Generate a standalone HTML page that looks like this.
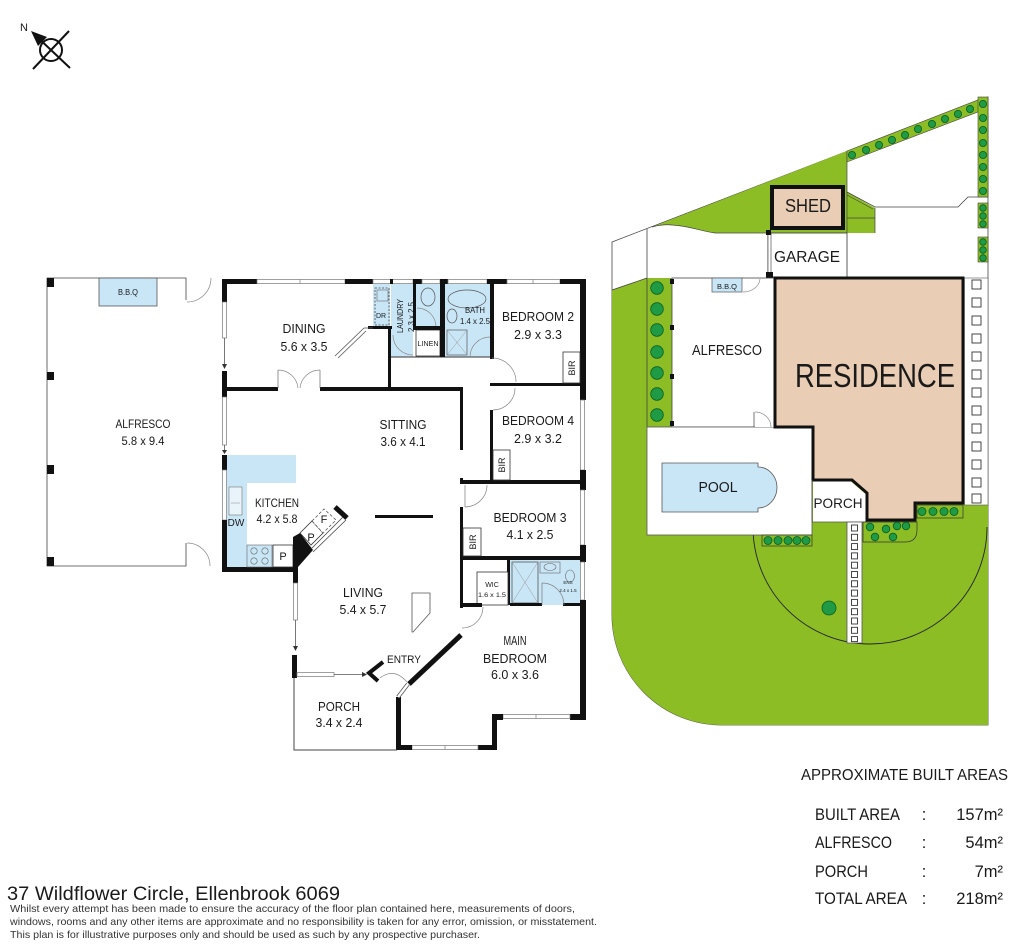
<!DOCTYPE html>
<html><head><meta charset="utf-8">
<style>
html,body{margin:0;padding:0;background:#fff}
svg{display:block}
text{font-family:"Liberation Sans",sans-serif;fill:#1a1a1a}
.w{fill:#fff;stroke:#777;stroke-width:0.7}
.k{fill:#111}
.t{fill:none;stroke:#444;stroke-width:0.8}
.a{fill:none;stroke:#888;stroke-width:0.7}
.b{fill:#c9e6f7}
.tr{fill:#1f9b45;stroke:#0b5e24;stroke-width:0.8}
.g{fill:#8cbd24}
.sq{fill:#fff;stroke:#333;stroke-width:0.9}
</style></head>
<body>
<svg width="1024" height="952" viewBox="0 0 1024 952" xmlns="http://www.w3.org/2000/svg">

<!-- Compass -->
<text x="20" y="31" font-size="11">N</text>
<circle cx="51" cy="50" r="11" fill="none" stroke="#111" stroke-width="2"/>
<line x1="33" y1="69" x2="69" y2="31" stroke="#111" stroke-width="2"/>
<line x1="33" y1="33" x2="70" y2="68" stroke="#111" stroke-width="2"/>
<polygon points="31,31 47,37 38,46" fill="#111"/>

<!-- ===== FLOOR PLAN ===== -->
<!-- Alfresco -->
<path d="M186,300 L186,278 L47,278 L47,566 L186,566 L186,543" class="t" stroke="#333" stroke-width="1"/>
<path d="M187,302 A24,24 0 0 0 211,278" class="a"/>
<path d="M187,543 A23,23 0 0 1 210,566" class="a"/>
<rect x="47" y="278" width="7" height="9" class="k"/>
<rect x="47" y="372" width="7" height="8" class="k"/>
<rect x="47" y="465" width="7" height="9" class="k"/>
<rect x="47" y="557" width="7" height="9" class="k"/>
<rect x="99" y="278" width="58" height="28" class="b" stroke="#555" stroke-width="0.8"/>
<text x="128" y="295" font-size="8" text-anchor="middle" textLength="20" lengthAdjust="spacingAndGlyphs">B.B.Q</text>
<text x="143" y="428" font-size="11.5" text-anchor="middle" textLength="55" lengthAdjust="spacingAndGlyphs">ALFRESCO</text>
<text x="143" y="445" font-size="11.5" text-anchor="middle" textLength="43" lengthAdjust="spacingAndGlyphs">5.8 x 9.4</text>

<!-- wet area fills -->
<rect x="373" y="284" width="17" height="43" class="b"/>
<rect x="391" y="284" width="22" height="73" class="b"/>
<rect x="416" y="284" width="24" height="42" class="b"/>
<rect x="445" y="284" width="45" height="73" class="b"/>
<rect x="375" y="288" width="14" height="37" fill="none" stroke="#444" stroke-width="0.8" stroke-dasharray="2,1.5"/>
<rect x="377" y="290" width="11" height="11" fill="none" stroke="#666" stroke-width="0.6"/>
<ellipse cx="428" cy="297" rx="7" ry="9" class="b" stroke="#555" stroke-width="0.7"/>
<ellipse cx="467" cy="299" rx="19" ry="9" class="b" stroke="#555" stroke-width="0.7"/>
<ellipse cx="452" cy="316" rx="5" ry="7" class="b" stroke="#555" stroke-width="0.7"/>
<rect x="447" y="330" width="20" height="25" class="b" stroke="#555" stroke-width="0.7"/>
<line x1="447" y1="330" x2="467" y2="355" stroke="#999" stroke-width="0.5"/>
<line x1="467" y1="330" x2="447" y2="355" stroke="#999" stroke-width="0.5"/>
<rect x="416" y="330" width="24" height="26" fill="#fff" stroke="#333" stroke-width="0.8"/>
<line x1="391" y1="357" x2="490" y2="357" stroke="#333" stroke-width="1"/>
<path d="M393,335 A20,20 0 0 0 413,355" class="a"/>
<path d="M417,308 A19,19 0 0 1 436,327" class="a"/>
<path d="M470,357 A20,20 0 0 1 490,337" class="a"/>
<text x="381" y="318" font-size="7" text-anchor="middle">DR</text>
<text transform="translate(403,316) rotate(-90)" font-size="8" text-anchor="middle" textLength="34" lengthAdjust="spacingAndGlyphs">LAUNDRY</text>
<text transform="translate(414,317) rotate(-90)" font-size="8" text-anchor="middle" textLength="30" lengthAdjust="spacingAndGlyphs">2.3 x 2.5</text>
<text x="428" y="346" font-size="7.5" text-anchor="middle" textLength="21" lengthAdjust="spacingAndGlyphs">LINEN</text>
<text x="475" y="313" font-size="8" text-anchor="middle" textLength="20" lengthAdjust="spacingAndGlyphs">BATH</text>
<text x="475" y="324" font-size="8" text-anchor="middle" textLength="30" lengthAdjust="spacingAndGlyphs">1.4 x 2.5</text>

<!-- top wall -->
<rect x="222" y="279" width="35" height="5" class="k"/>
<rect x="257" y="279.5" width="88" height="4" class="w"/>
<line x1="300" y1="279.5" x2="300" y2="283.5" stroke="#777" stroke-width="0.7"/>
<rect x="345" y="279" width="28" height="5" class="k"/>
<rect x="373" y="279.5" width="40" height="4" class="w"/>
<rect x="390" y="279" width="3" height="5" class="k"/>
<rect x="413" y="279" width="9" height="5" class="k"/>
<rect x="422" y="279.5" width="18" height="4" class="w"/>
<rect x="440" y="279" width="8" height="5" class="k"/>
<rect x="448" y="279.5" width="39" height="4" class="w"/>
<rect x="487" y="279" width="20" height="5" class="k"/>
<rect x="507" y="279.5" width="53" height="4" class="w"/>
<line x1="533" y1="279.5" x2="533" y2="283.5" stroke="#777" stroke-width="0.7"/>
<rect x="560" y="279" width="26" height="5" class="k"/>

<!-- right wall -->
<rect x="580" y="279" width="6" height="121" class="k"/>
<rect x="580.5" y="400" width="4" height="70" class="w"/>
<rect x="580" y="470" width="6" height="20" class="k"/>
<rect x="580.5" y="490" width="4" height="55" class="w"/>
<rect x="580" y="545" width="6" height="17" class="k"/>
<rect x="580.5" y="562" width="4" height="38" class="w"/>
<rect x="580" y="600" width="6" height="120" class="k"/>

<!-- bottom walls -->
<rect x="570" y="714" width="16" height="6" class="k"/>
<rect x="503" y="714.5" width="67" height="4" class="w"/>
<line x1="536" y1="714.5" x2="536" y2="718.5" stroke="#777" stroke-width="0.7"/>
<rect x="492" y="714" width="11" height="6" class="k"/>
<rect x="492" y="714" width="5" height="36" class="k"/>
<rect x="478" y="745" width="19" height="5" class="k"/>
<rect x="412" y="745.5" width="66" height="4" class="w"/>
<line x1="445" y1="745.5" x2="445" y2="749.5" stroke="#777" stroke-width="0.7"/>
<rect x="396" y="745" width="16" height="5" class="k"/>
<rect x="396" y="697" width="5" height="53" class="k"/>
<line x1="461" y1="635" x2="409" y2="684" stroke="#111" stroke-width="5"/>
<line x1="408" y1="684" x2="398" y2="697" stroke="#555" stroke-width="4"/>
<line x1="408" y1="684" x2="398" y2="697" stroke="#fff" stroke-width="2.4"/>
<path d="M380,678 Q394,667 407,682" class="a"/>
<polyline points="383,662 369,673 378,681" fill="none" stroke="#111" stroke-width="4"/>

<!-- porch -->
<rect x="292" y="655" width="5" height="23" class="k"/>
<rect x="297" y="672.5" width="37" height="4" class="w"/>
<line x1="334" y1="674.5" x2="363" y2="674.5" stroke="#555" stroke-width="0.8"/>
<polygon points="362,672 362,677 367,674.5" fill="#333"/>
<path d="M294,678 L294,750 L397,750" fill="none" stroke="#444" stroke-width="1"/>

<!-- left walls -->
<rect x="222" y="279" width="5" height="23" class="k"/>
<rect x="222.5" y="302" width="4" height="36" class="w"/>
<line x1="224.5" y1="338" x2="224.5" y2="365" stroke="#555" stroke-width="0.8"/>
<polygon points="222,364 227,364 224.5,369" fill="#333"/>
<rect x="222" y="371" width="5" height="26" class="k"/>
<rect x="222.5" y="397" width="4" height="48" class="w"/>
<line x1="224.5" y1="445" x2="224.5" y2="451" stroke="#555" stroke-width="0.8"/>
<polygon points="222,450 227,450 224.5,454" fill="#333"/>

<!-- kitchen -->
<polygon points="227,455 296,455 296,483 247,483 247,545 272,545 272,567 227,567" class="b"/>
<rect x="222" y="455" width="5" height="15" class="k"/>
<rect x="222.5" y="470" width="4" height="50" class="w"/>
<rect x="222" y="520" width="5" height="52" class="k"/>
<rect x="222" y="567" width="76" height="5" class="k"/>
<rect x="229" y="487" width="13" height="28" fill="#e8f3fa" stroke="#777" stroke-width="0.6"/>
<line x1="231" y1="503" x2="240" y2="503" stroke="#888" stroke-width="0.5"/>
<rect x="247" y="545" width="25" height="22" class="b" stroke="#666" stroke-width="0.6"/>
<circle cx="254" cy="551" r="3.2" fill="none" stroke="#666" stroke-width="0.6"/>
<circle cx="265" cy="551" r="3.2" fill="none" stroke="#666" stroke-width="0.6"/>
<circle cx="254" cy="561" r="3.2" fill="none" stroke="#666" stroke-width="0.6"/>
<circle cx="265" cy="561" r="3.2" fill="none" stroke="#666" stroke-width="0.6"/>
<rect x="273" y="545" width="20" height="22" fill="#fff" stroke="#333" stroke-width="0.8"/>
<polygon points="293,537 300,533 313,550 298,567 293,567" class="k"/>
<polygon points="300,533 312,521 323,533 311,545" fill="#fff" stroke="#333" stroke-width="0.8"/>
<polygon points="312,521 324,509 336,520 323,533" fill="#fff" stroke="#444" stroke-width="0.7" stroke-dasharray="3,2"/>
<line x1="335" y1="507" x2="347" y2="518" stroke="#111" stroke-width="5"/>
<line x1="346" y1="520" x2="313" y2="552" stroke="#444" stroke-width="0.8"/>
<line x1="343" y1="517" x2="311" y2="549" stroke="#444" stroke-width="0.8"/>
<rect x="293" y="567" width="5" height="16" class="k"/>
<rect x="293.5" y="583" width="4" height="37" class="w"/>
<line x1="295.5" y1="620" x2="295.5" y2="647" stroke="#555" stroke-width="0.8"/>
<polygon points="293,646 298,646 295.5,651" fill="#333"/>
<text x="277" y="507" font-size="12" text-anchor="middle" textLength="44" lengthAdjust="spacingAndGlyphs">KITCHEN</text>
<text x="277" y="523" font-size="12" text-anchor="middle" textLength="41" lengthAdjust="spacingAndGlyphs">4.2 x 5.8</text>
<text x="236" y="526" font-size="10" text-anchor="middle">DW</text>
<text x="283" y="560" font-size="11" text-anchor="middle">P</text>
<text x="311" y="541" font-size="11" text-anchor="middle">P</text>
<text x="324" y="523" font-size="11" text-anchor="middle">F</text>

<!-- dining -->
<rect x="222" y="387" width="56" height="4" class="k"/>
<rect x="320" y="387" width="143" height="4" class="k"/>
<line x1="278" y1="370" x2="278" y2="388" stroke="#666" stroke-width="0.7"/>
<line x1="320" y1="370" x2="320" y2="388" stroke="#666" stroke-width="0.7"/>
<path d="M278,370 A20,20 0 0 1 298,388" class="a"/>
<path d="M320,370 A20,20 0 0 0 300,388" class="a"/>
<rect x="388" y="327" width="3" height="63" class="k"/>
<rect x="368" y="326" width="24" height="3" class="k"/>
<line x1="335" y1="356" x2="364" y2="328" stroke="#555" stroke-width="0.8"/>
<line x1="338" y1="358" x2="366" y2="331" stroke="#555" stroke-width="0.8"/>
<line x1="364" y1="328" x2="373" y2="328" stroke="#555" stroke-width="0.8"/>
<text x="304" y="333" font-size="13" text-anchor="middle" textLength="43" lengthAdjust="spacingAndGlyphs">DINING</text>
<text x="304" y="351" font-size="13" text-anchor="middle" textLength="47" lengthAdjust="spacingAndGlyphs">5.6 x 3.5</text>

<!-- wet area walls -->
<rect x="413" y="284" width="3" height="44" class="k"/>
<rect x="413" y="326" width="30" height="4" class="k"/>
<rect x="440" y="284" width="5" height="73" class="k"/>
<rect x="490" y="279" width="4" height="80" class="k"/>

<!-- sitting -->
<rect x="460" y="388" width="3" height="62" class="k"/>
<text x="403" y="429" font-size="13" text-anchor="middle" textLength="47" lengthAdjust="spacingAndGlyphs">SITTING</text>
<text x="403" y="446" font-size="13" text-anchor="middle" textLength="45" lengthAdjust="spacingAndGlyphs">3.6 x 4.1</text>

<!-- bedrooms -->
<rect x="490" y="383" width="96" height="3" class="k"/>
<path d="M492,358 A24,24 0 0 1 516,382" class="a"/>
<path d="M515,388 A22,22 0 0 1 493,410" class="a"/>
<rect x="490" y="410" width="3" height="72" class="k"/>
<rect x="463" y="480" width="123" height="4" class="k"/>
<rect x="463" y="556" width="123" height="4" class="k"/>
<rect x="460" y="478" width="3" height="6" class="k"/>
<rect x="460" y="507" width="3" height="101" class="k"/>
<line x1="465" y1="485" x2="465" y2="507" stroke="#777" stroke-width="0.7"/>
<path d="M487,485 A22,22 0 0 1 465,507" class="a"/>
<rect x="563" y="352" width="17" height="31" fill="#fff" stroke="#333" stroke-width="0.8"/>
<rect x="493" y="450" width="17" height="30" fill="#fff" stroke="#333" stroke-width="0.8"/>
<rect x="463" y="528" width="18" height="28" fill="#fff" stroke="#333" stroke-width="0.8"/>
<text transform="translate(575,368) rotate(-90)" font-size="9" text-anchor="middle">BIR</text>
<text transform="translate(505,465) rotate(-90)" font-size="9" text-anchor="middle">BIR</text>
<text transform="translate(476,542) rotate(-90)" font-size="9" text-anchor="middle">BIR</text>
<text x="538" y="321" font-size="13" text-anchor="middle" textLength="72" lengthAdjust="spacingAndGlyphs">BEDROOM 2</text>
<text x="538" y="339" font-size="13" text-anchor="middle" textLength="48" lengthAdjust="spacingAndGlyphs">2.9 x 3.3</text>
<text x="538" y="425" font-size="13" text-anchor="middle" textLength="72" lengthAdjust="spacingAndGlyphs">BEDROOM 4</text>
<text x="538" y="443" font-size="13" text-anchor="middle" textLength="48" lengthAdjust="spacingAndGlyphs">2.9 x 3.2</text>
<text x="530" y="522" font-size="13" text-anchor="middle" textLength="73" lengthAdjust="spacingAndGlyphs">BEDROOM 3</text>
<text x="530" y="539" font-size="13" text-anchor="middle" textLength="47" lengthAdjust="spacingAndGlyphs">4.1 x 2.5</text>

<!-- ensuite / wic -->
<rect x="508" y="560" width="72" height="45" class="b"/>
<rect x="507" y="560" width="3" height="45" class="k"/>
<rect x="512" y="562" width="26" height="41" class="b" stroke="#555" stroke-width="0.8"/>
<line x1="512" y1="562" x2="538" y2="603" stroke="#999" stroke-width="0.5"/>
<line x1="538" y1="562" x2="512" y2="603" stroke="#999" stroke-width="0.5"/>
<rect x="540" y="562" width="20" height="11" class="b" stroke="#666" stroke-width="0.6"/>
<ellipse cx="550" cy="567" rx="6" ry="3.5" fill="none" stroke="#666" stroke-width="0.6"/>
<ellipse cx="570" cy="576" rx="4.5" ry="6" class="b" stroke="#666" stroke-width="0.6"/>
<rect x="510" y="603" width="32" height="3" class="k"/>
<rect x="563" y="603" width="17" height="3" class="k"/>
<path d="M542,583 A22,22 0 0 1 564,605" class="a"/>
<line x1="542" y1="583" x2="542" y2="605" stroke="#777" stroke-width="0.7"/>
<rect x="477" y="572" width="31" height="33" fill="#fff" stroke="#333" stroke-width="0.8"/>
<rect x="460" y="603" width="22" height="4" class="k"/>
<path d="M483,607 A21,21 0 0 1 462,628" class="a"/>
<text x="492" y="587" font-size="7" text-anchor="middle">WIC</text>
<text x="492" y="597" font-size="6.5" text-anchor="middle" textLength="28" lengthAdjust="spacingAndGlyphs">1.6 x 1.5</text>
<text x="568" y="584" font-size="4.5" text-anchor="middle">ENS</text>
<text x="568" y="592" font-size="4.5" text-anchor="middle">2.4 x 1.5</text>

<!-- living -->
<rect x="375" y="515" width="58" height="3" class="k"/>
<polygon points="412,593 430,593 430,613 413,632 412,632" fill="#fff" stroke="#555" stroke-width="0.8"/>
<text x="363" y="597" font-size="13" text-anchor="middle" textLength="40" lengthAdjust="spacingAndGlyphs">LIVING</text>
<text x="363" y="614" font-size="13" text-anchor="middle" textLength="47" lengthAdjust="spacingAndGlyphs">5.4 x 5.7</text>
<text x="404" y="663" font-size="11" text-anchor="middle" textLength="34" lengthAdjust="spacingAndGlyphs">ENTRY</text>
<text x="339" y="711" font-size="13" text-anchor="middle" textLength="42" lengthAdjust="spacingAndGlyphs">PORCH</text>
<text x="339" y="727" font-size="13" text-anchor="middle" textLength="47" lengthAdjust="spacingAndGlyphs">3.4 x 2.4</text>
<text x="515" y="645" font-size="13" text-anchor="middle" textLength="23" lengthAdjust="spacingAndGlyphs">MAIN</text>
<text x="515" y="663" font-size="13" text-anchor="middle" textLength="64" lengthAdjust="spacingAndGlyphs">BEDROOM</text>
<text x="515" y="679" font-size="13" text-anchor="middle" textLength="48" lengthAdjust="spacingAndGlyphs">6.0 x 3.6</text>

<!-- ===== SITE PLAN ===== -->
<path d="M988,97 L988,725 L722,725 A110,110 0 0 1 612,615 L612,242 Z" fill="#fff" stroke="#444" stroke-width="0.8"/>
<path d="M612,290 L647,278 L988,278 L988,725 L722,725 A110,110 0 0 1 612,615 Z" class="g"/>
<line x1="612" y1="290" x2="647" y2="278" stroke="#444" stroke-width="0.8"/>
<path d="M753,527 A117,117 0 0 0 987,527" fill="none" stroke="#222" stroke-width="0.9"/>
<path d="M652,227 L847,151 L847,192 L875,208 L875,233 L768,233 L715,233 C700,231 690,226 672,225 C662,224 656,226 652,227 Z" class="g"/>
<path d="M768,233 L715,233 C700,231 690,226 672,225 C662,224 656,226 652,227" fill="none" stroke="#444" stroke-width="0.7"/>
<line x1="847" y1="151" x2="847" y2="233" stroke="#444" stroke-width="0.7"/>
<line x1="847" y1="218" x2="875" y2="218" stroke="#444" stroke-width="0.7"/>
<line x1="875" y1="208" x2="875" y2="233" stroke="#444" stroke-width="0.7"/>
<line x1="647" y1="229" x2="647" y2="427" stroke="#444" stroke-width="0.8"/>
<path d="M847,192 L875,207 L958,207 L968,197 L988,197" fill="none" stroke="#444" stroke-width="0.8"/>
<line x1="847" y1="195" x2="873" y2="209" stroke="#444" stroke-width="0.6"/>

<!-- top hedge -->
<polygon points="847,151 983,98 983,110 847,162" class="g" stroke="#444" stroke-width="0.6"/>
<rect x="978" y="97" width="10" height="100" class="g" stroke="#444" stroke-width="0.6"/>
<rect x="978" y="203" width="10" height="25" class="g" stroke="#444" stroke-width="0.6"/>
<rect x="978" y="237" width="10" height="25" class="g" stroke="#444" stroke-width="0.6"/>
<g class="tr">
<circle cx="852" cy="155" r="3.6"/><circle cx="866" cy="150" r="3.6"/><circle cx="879" cy="145" r="3.6"/><circle cx="892" cy="140" r="3.6"/><circle cx="905" cy="135" r="3.6"/><circle cx="918" cy="129" r="3.6"/><circle cx="932" cy="124" r="3.6"/><circle cx="945" cy="119" r="3.6"/><circle cx="958" cy="114" r="3.6"/><circle cx="970" cy="109" r="3.6"/><circle cx="983" cy="104" r="3.6"/>
<circle cx="983" cy="118" r="3.6"/><circle cx="983" cy="130" r="3.6"/><circle cx="983" cy="143" r="3.6"/><circle cx="983" cy="155" r="3.6"/><circle cx="983" cy="167" r="3.6"/><circle cx="983" cy="179" r="3.6"/><circle cx="983" cy="191" r="3.6"/>
<circle cx="983" cy="208" r="3.3"/><circle cx="983" cy="216" r="3.3"/><circle cx="983" cy="224" r="3.3"/>
<circle cx="983" cy="242" r="3.3"/><circle cx="983" cy="250" r="3.3"/><circle cx="983" cy="258" r="3.3"/>
</g>

<!-- shed / garage -->
<rect x="772" y="187" width="71" height="41" fill="#e9cdb4" stroke="#111" stroke-width="4"/>
<text x="808" y="212" font-size="18" text-anchor="middle" textLength="46" lengthAdjust="spacingAndGlyphs">SHED</text>
<rect x="768" y="233" width="79" height="44" fill="#fff" stroke="#333" stroke-width="0.8"/>
<rect x="768" y="233" width="3" height="44" fill="#fff" stroke="#333" stroke-width="0.6"/>
<rect x="766" y="230" width="5" height="5" class="k"/>
<rect x="766" y="272" width="7" height="7" class="k"/>
<text x="807" y="262" font-size="16" text-anchor="middle" textLength="66" lengthAdjust="spacingAndGlyphs">GARAGE</text>

<!-- alfresco site -->
<rect x="672" y="278" width="103" height="149" fill="#fff" stroke="#444" stroke-width="0.8"/>
<rect x="670" y="279" width="4" height="5" class="k"/>
<rect x="670" y="325" width="4" height="5" class="k"/>
<rect x="670" y="374" width="4" height="5" class="k"/>
<rect x="670" y="421" width="4" height="5" class="k"/>
<rect x="712" y="278" width="30" height="14" class="b" stroke="#555" stroke-width="0.7"/>
<text x="727" y="289" font-size="7" text-anchor="middle" textLength="20" lengthAdjust="spacingAndGlyphs">B.B.Q</text>
<path d="M743,292 A17,14 0 0 0 760,279" class="a"/>
<text x="727" y="355" font-size="15" text-anchor="middle" textLength="70" lengthAdjust="spacingAndGlyphs">ALFRESCO</text>

<!-- left strip trees -->
<g class="tr">
<circle cx="657" cy="288" r="6.3"/><circle cx="657" cy="309" r="6.3"/><circle cx="657" cy="330" r="6.3"/><circle cx="657" cy="352" r="6.3"/><circle cx="657" cy="373" r="6.3"/><circle cx="657" cy="394" r="6.3"/><circle cx="657" cy="415" r="6.3"/>
</g>

<!-- pool deck -->
<rect x="647" y="427" width="165" height="108" fill="#fff" stroke="#555" stroke-width="0.8"/>
<rect x="755" y="412" width="20" height="15" fill="#fff"/>
<line x1="754" y1="412" x2="754" y2="427" stroke="#555" stroke-width="0.8"/>
<path d="M755,412 A16,15 0 0 1 771,427" class="a"/>
<path d="M662,463 L758,463 L758,467 A19,20.5 0 0 1 758,508 L758,512 L662,512 Z" class="b" stroke="#555" stroke-width="0.8"/>
<text x="718" y="492" font-size="15" text-anchor="middle" textLength="39" lengthAdjust="spacingAndGlyphs">POOL</text>

<!-- residence -->
<polygon points="775,278 963,278 963,503 915,503 915,520 867,520 867,493 852,480 813,480 813,427 775,427" fill="#e9cdb4" stroke="#111" stroke-width="3"/>
<text x="875" y="387" font-size="33" text-anchor="middle" textLength="160" lengthAdjust="spacingAndGlyphs">RESIDENCE</text>
<polygon points="813,481.5 851,481.5 865.5,494 865.5,522 813,522" fill="#fff"/>
<line x1="812" y1="480" x2="812" y2="522" stroke="#555" stroke-width="0.8"/>
<line x1="812" y1="522" x2="867" y2="522" stroke="#555" stroke-width="0.8"/>
<text x="838" y="508" font-size="14" text-anchor="middle" textLength="49" lengthAdjust="spacingAndGlyphs">PORCH</text>

<!-- front path -->
<rect x="847" y="522" width="15" height="121" fill="#fff" stroke="#555" stroke-width="0.8"/>
<g class="sq" stroke-width="0.7">
<rect x="851.5" y="525" width="6" height="6"/><rect x="851.5" y="534.3" width="6" height="6"/><rect x="851.5" y="543.6" width="6" height="6"/><rect x="851.5" y="552.9" width="6" height="6"/><rect x="851.5" y="562.2" width="6" height="6"/><rect x="851.5" y="571.5" width="6" height="6"/><rect x="851.5" y="580.8" width="6" height="6"/><rect x="851.5" y="590.1" width="6" height="6"/><rect x="851.5" y="599.4" width="6" height="6"/><rect x="851.5" y="608.7" width="6" height="6"/><rect x="851.5" y="618" width="6" height="6"/><rect x="851.5" y="627.3" width="6" height="6"/><rect x="851.5" y="636.6" width="6" height="5"/>
</g>

<!-- right path -->
<rect x="964.5" y="278" width="23.5" height="227" fill="#fff" stroke="#555" stroke-width="0.6"/>
<g class="sq">
<rect x="972" y="280" width="9" height="9"/><rect x="972" y="298" width="9" height="9"/><rect x="972" y="316" width="9" height="9"/><rect x="972" y="334" width="9" height="9"/><rect x="972" y="352" width="9" height="9"/><rect x="972" y="370" width="9" height="9"/><rect x="972" y="388" width="9" height="9"/><rect x="972" y="406" width="9" height="9"/><rect x="972" y="424" width="9" height="9"/><rect x="972" y="442" width="9" height="9"/><rect x="972" y="460" width="9" height="9"/><rect x="972" y="478" width="9" height="9"/><rect x="972" y="494" width="9" height="9"/>
</g>

<!-- bottom hedges -->
<rect x="762" y="535" width="50" height="11" class="g" stroke="#333" stroke-width="0.7"/>
<path d="M863,522 L917,522 L917,530 Q917,542 905,542 L863,542 Z" class="g" stroke="#333" stroke-width="0.7"/>
<rect x="917" y="505" width="46" height="13" class="g" stroke="#333" stroke-width="0.7"/>
<g class="tr">
<circle cx="768" cy="540.5" r="4"/><circle cx="778" cy="540.5" r="4"/><circle cx="788" cy="540.5" r="4"/><circle cx="797" cy="540.5" r="4"/><circle cx="806" cy="540.5" r="4"/>
<circle cx="870" cy="527" r="3.8"/><circle cx="886" cy="529" r="3.8"/><circle cx="897" cy="526" r="3.8"/><circle cx="906" cy="526" r="3.8"/><circle cx="875" cy="537" r="3.8"/><circle cx="893" cy="537" r="3.8"/>
<circle cx="922" cy="511.5" r="4"/><circle cx="933" cy="511.5" r="4"/><circle cx="944" cy="511.5" r="4"/><circle cx="954" cy="511.5" r="4"/>
<circle cx="829" cy="608" r="7"/>
</g>

<!-- ===== AREAS ===== -->
<text x="801" y="780" font-size="16" textLength="207" lengthAdjust="spacingAndGlyphs">APPROXIMATE BUILT AREAS</text>
<g font-size="16.5">
<text x="815" y="820" textLength="85" lengthAdjust="spacingAndGlyphs">BUILT AREA</text>
<text x="924" y="820" text-anchor="middle">:</text>
<text x="1003" y="820" text-anchor="end">157m²</text>
<text x="815" y="848" textLength="77" lengthAdjust="spacingAndGlyphs">ALFRESCO</text>
<text x="924" y="848" text-anchor="middle">:</text>
<text x="1003" y="848" text-anchor="end">54m²</text>
<text x="815" y="877" textLength="53" lengthAdjust="spacingAndGlyphs">PORCH</text>
<text x="924" y="877" text-anchor="middle">:</text>
<text x="1003" y="877" text-anchor="end">7m²</text>
<text x="815" y="904" textLength="92" lengthAdjust="spacingAndGlyphs">TOTAL AREA</text>
<text x="924" y="904" text-anchor="middle">:</text>
<text x="1003" y="904" text-anchor="end">218m²</text>
</g>

<!-- ===== FOOTER ===== -->
<text x="7" y="900" font-size="19" textLength="333" lengthAdjust="spacingAndGlyphs">37 Wildflower Circle, Ellenbrook 6069</text>
<g font-size="10.5" style="fill:#333">
<text x="10" y="912" textLength="565" lengthAdjust="spacingAndGlyphs" style="fill:#333">Whilst every attempt has been made to ensure the accuracy of the floor plan contained here, measurements of doors,</text>
<text x="10" y="925" textLength="587" lengthAdjust="spacingAndGlyphs" style="fill:#333">windows, rooms and any other items are approximate and no responsibility is taken for any error, omission, or misstatement.</text>
<text x="10" y="938" textLength="470" lengthAdjust="spacingAndGlyphs" style="fill:#333">This plan is for illustrative purposes only and should be used as such by any prospective purchaser.</text>
</g>

</svg>
</body></html>
